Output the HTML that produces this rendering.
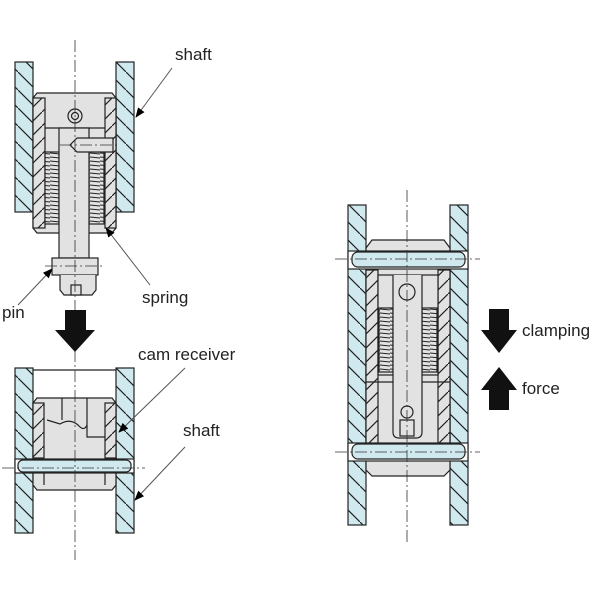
<!DOCTYPE html>
<html><head><style>
body{margin:0;background:#fff}
svg{display:block}
text{font-family:"Liberation Sans",sans-serif;font-size:17px;fill:#222}
</style></head><body>
<svg width="600" height="600" viewBox="0 0 600 600" xmlns="http://www.w3.org/2000/svg">
<defs>
<pattern id="h" patternUnits="userSpaceOnUse" width="18" height="18" patternTransform="rotate(0)">
<rect width="18" height="18" fill="#cfe9ee"/>
<path d="M0 0 L18 18" stroke="#222" stroke-width="1.2"/>
</pattern>
<pattern id="g" patternUnits="userSpaceOnUse" width="14" height="14">
<rect width="14" height="14" fill="#e2e2e2"/>
<path d="M0 14 L14 0" stroke="#222" stroke-width="1.2"/>
</pattern>
<pattern id="s" patternUnits="userSpaceOnUse" width="10" height="4">
<rect width="10" height="4" fill="#e2e2e2"/>
<path d="M0 1 L10 2" stroke="#222" stroke-width="1"/>
</pattern>
<marker id="a" markerWidth="10" markerHeight="8" refX="9" refY="4" orient="auto" markerUnits="userSpaceOnUse"><path d="M0 0 L10 4 L0 8z" fill="#000"/></marker>
</defs>
<g stroke="#222" stroke-width="1.2">
<!-- TOP LEFT -->
<rect x="15" y="62" width="18" height="150" fill="url(#h)"/>
<rect x="116" y="62" width="18" height="150" fill="url(#h)"/>
<path d="M37 93 H112 L116 98 V228 L112 233 H37 L33 228 V98z" fill="#e2e2e2"/>
<rect x="33" y="98" width="12" height="130" fill="url(#g)"/>
<rect x="105" y="98" width="11" height="130" fill="url(#g)"/>
<path d="M45 128 H105" fill="none"/>
<circle cx="75" cy="116" r="7" fill="none"/><circle cx="75" cy="116" r="3.5" fill="none"/>
<rect x="45" y="152" width="14" height="72" fill="url(#s)"/>
<rect x="89" y="152" width="15" height="72" fill="url(#s)"/>
<rect x="59" y="128" width="30" height="130" fill="#e2e2e2"/>
<path d="M70 145 L77 138 H113 V152 H77z" fill="#e2e2e2"/>
<rect x="52" y="258" width="46" height="17" fill="#e2e2e2"/>
<path d="M60 275 V290 L64 295 H92 L96 290 V275" fill="#e2e2e2"/>
<rect x="71" y="285" width="10" height="10" fill="#e2e2e2"/>
<!-- BOTTOM LEFT -->
<rect x="15" y="368" width="18" height="165" fill="url(#h)"/>
<rect x="116" y="368" width="18" height="165" fill="url(#h)"/>
<path d="M33 370 H116" fill="none"/>
<path d="M37 398 H112 L116 403 V485 L112 490 H37 L33 485 V403z" fill="#e2e2e2"/>
<rect x="33" y="403" width="11" height="55" fill="url(#g)"/>
<rect x="105" y="403" width="11" height="55" fill="url(#g)"/>
<path d="M62 398 V420 M87 398 V425 M47 420 L60 424 Q70 418 78 425 Q84 432 87 425 M87 425 V437 H105" fill="none"/>
<rect x="15" y="459" width="119" height="14" fill="#fff"/>
<rect x="18" y="460" width="113" height="12" rx="5" fill="#cfe9ee"/>
<path d="M44 473 V485 M105 473 V485" fill="none"/>
<!-- RIGHT -->
<rect x="348" y="205" width="18" height="320" fill="url(#h)"/>
<rect x="450" y="205" width="18" height="320" fill="url(#h)"/>
<path d="M372 240 H444 L450 248 V470 L444 476 H372 L366 470 V248z" fill="#e2e2e2"/>
<rect x="366" y="270" width="12" height="175" fill="url(#g)"/>
<rect x="438" y="270" width="12" height="175" fill="url(#g)"/>
<rect x="378" y="275" width="60" height="100" fill="#e2e2e2"/>
<rect x="379" y="308" width="14" height="64" fill="url(#s)"/>
<rect x="422" y="308" width="15" height="64" fill="url(#s)"/>
<path d="M366 382 H450" fill="none"/>
<path d="M393 275 V432 Q393 438 399 438 H416 Q422 438 422 432 V275" fill="#e2e2e2"/>
<circle cx="407" cy="292" r="8" fill="#e2e2e2"/>
<circle cx="407" cy="412" r="6" fill="#e2e2e2"/>
<rect x="400" y="420" width="14" height="16" fill="#e2e2e2"/>
<rect x="348" y="251" width="120" height="18" fill="#fff"/>
<rect x="352" y="252" width="113" height="15" rx="6" fill="#cfe9ee"/>
<rect x="348" y="443" width="120" height="18" fill="#fff"/>
<rect x="352" y="444" width="113" height="15" rx="6" fill="#cfe9ee"/>
</g>
<!-- centerlines -->
<g stroke="#333" stroke-width="0.8" stroke-dasharray="12 3 2 3" fill="none">
<path d="M75 40 V310 M75 350 V560 M2 468 H145 M407 190 V545 M335 259 H480 M335 452 H480 M60 145 H120 M45 266 H105"/>
</g>
<!-- arrows -->
<path d="M65 310 H86 V330 H95 L75 352 L55 330 H65z" fill="#111"/>
<path d="M489 309 H509 V330 H517 L499 353 L481 330 H489z" fill="#111"/>
<path d="M489 410 H509 V390 H517 L499 367 L481 390 H489z" fill="#111"/>
<!-- leaders -->
<g stroke="#555" stroke-width="1" fill="none" marker-end="url(#a)">
<path d="M172 68 L136 117"/>
<path d="M150 285 L106 228"/>
<path d="M18 305 L52 269"/>
<path d="M185 368 L119 432"/>
<path d="M185 447 L135 500"/>
</g>
<text x="175" y="60">shaft</text>
<text x="142" y="303">spring</text>
<text x="2" y="318">pin</text>
<text x="138" y="360">cam receiver</text>
<text x="183" y="436">shaft</text>
<text x="522" y="336">clamping</text>
<text x="522" y="394">force</text>
</svg>
</body></html>
